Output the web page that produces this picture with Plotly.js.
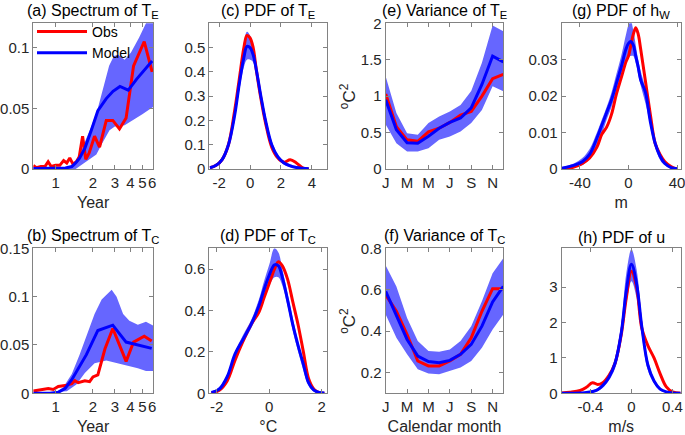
<!DOCTYPE html>
<html>
<head>
<meta charset="utf-8">
<script src="https://cdn.plot.ly/plotly-3.0.1.min.js"></script>
<style>html,body{margin:0;padding:0;background:#fff}#chart{width:685px;height:435px}</style>
</head>
<body>
<div id="chart"></div>
<script>
// ---------- (a) Spectrum of T_E ----------
const aObsPeriod = [0.66,0.70,0.76,0.82,0.87,0.92,1.0,1.08,1.16,1.23,1.30,1.38,1.47,1.55,1.65,1.75,1.86,2.06,2.26,2.56,2.89,3.27,3.7,4.25,5.18,6.0];
const aObs       = [0.003,0.001,0.002,0.002,0.006,0.002,0.003,0.003,0.007,0.005,0.009,0.004,0.006,0.010,0.027,0.008,0.013,0.027,0.018,0.040,0.040,0.033,0.042,0.085,0.105,0.080];
const aModelPeriod = [0.66,0.8,1.0,1.2,1.35,1.45,1.56,1.72,1.94,2.19,2.56,2.9,3.3,3.85,4.5,5.2,6.0];
const aModel       = [0.0005,0.0005,0.0005,0.0008,0.002,0.005,0.009,0.017,0.032,0.048,0.058,0.064,0.068,0.065,0.074,0.082,0.089];
const aUpPeriod = [0.66,1.2,1.3,1.45,1.56,1.72,1.94,2.19,2.4,2.7,2.95,3.2,3.6,4.05,4.7,5.35,6.1];
const aUp       = [0.001,0.001,0.002,0.006,0.012,0.022,0.035,0.05,0.065,0.085,0.093,0.094,0.09,0.096,0.108,0.12,0.128];
const aLoPeriod = [0.66,1.45,1.56,1.72,1.94,2.13,2.4,2.72,3.0,3.6,4.2,5.0,6.1];
const aLo       = [0,0,0.002,0.005,0.009,0.012,0.022,0.032,0.035,0.036,0.04,0.045,0.051];

// ---------- (b) Spectrum of T_C ----------
const bObsPeriod = [0.66,0.724,0.794,0.873,0.957,1.05,1.19,1.35,1.43,1.52,1.72,1.88,2.0,2.19,2.5,2.89,3.7,4.25,5.18,5.95];
const bObs       = [0.0024,0.0034,0.0044,0.005,0.004,0.007,0.008,0.010,0.013,0.011,0.013,0.012,0.017,0.019,0.046,0.067,0.033,0.053,0.059,0.054];
const bModelPeriod = [0.66,0.9,1.05,1.19,1.35,1.52,1.77,2.19,2.89,3.7,4.73,5.95];
const bModel       = [0,0,0.001,0.005,0.014,0.026,0.04,0.065,0.0705,0.053,0.05,0.0465];
const bUpPeriod = [0.66,1.0,1.15,1.35,1.56,1.72,2.06,2.35,2.56,2.83,3.1,3.5,3.93,4.6,5.35,6.1];
const bUp       = [0,0.001,0.006,0.02,0.04,0.055,0.082,0.097,0.102,0.107,0.1,0.082,0.075,0.071,0.074,0.07];
const bLoPeriod = [0.66,1.23,1.47,1.72,2.06,2.56,3.17,3.7,4.6,5.35,6.1];
const bLo       = [0,0.002,0.009,0.021,0.031,0.034,0.031,0.029,0.026,0.023,0.023];

// ---------- (c) PDF of T_E ----------
const cX     = [-2.6,-2.2,-1.8,-1.4,-1.0,-0.7,-0.4,-0.2,0,0.2,0.4,0.7,1.0,1.4,1.8,2.2,2.6,3.0,3.4,3.8];
const cObs   = [0.005,0.015,0.04,0.1,0.24,0.37,0.5,0.55,0.54,0.5,0.41,0.29,0.19,0.09,0.045,0.028,0.038,0.025,0.005,0.0];
const cModel = [0.005,0.015,0.04,0.1,0.22,0.35,0.46,0.505,0.5,0.47,0.41,0.3,0.2,0.1,0.05,0.025,0.013,0.006,0.003,0.001];
const cUp    = [0.008,0.02,0.05,0.11,0.24,0.38,0.52,0.565,0.55,0.5,0.43,0.32,0.22,0.115,0.06,0.033,0.02,0.012,0.007,0.003];
const cLo    = [0.002,0.01,0.03,0.085,0.2,0.32,0.42,0.45,0.45,0.44,0.39,0.28,0.18,0.085,0.04,0.017,0.007,0.002,0.0,0.0];

// ---------- (d) PDF of T_C ----------
const dX     = [-2.2,-1.9,-1.6,-1.3,-1.0,-0.7,-0.4,-0.2,0,0.2,0.35,0.5,0.7,0.9,1.1,1.3,1.5,1.7,1.9,2.1];
const dObs   = [0.002,0.015,0.06,0.16,0.25,0.33,0.39,0.46,0.53,0.6,0.635,0.615,0.55,0.44,0.33,0.2,0.07,0.02,0.003,0.0];
const dModel = [0.004,0.02,0.08,0.19,0.26,0.33,0.42,0.5,0.57,0.62,0.615,0.56,0.45,0.33,0.23,0.14,0.05,0.015,0.004,0.001];
const dUp    = [0.008,0.03,0.09,0.2,0.28,0.35,0.45,0.54,0.62,0.7,0.68,0.6,0.48,0.36,0.25,0.15,0.065,0.025,0.008,0.003];
const dLo    = [0.0,0.01,0.06,0.17,0.24,0.31,0.39,0.46,0.52,0.56,0.56,0.52,0.42,0.3,0.2,0.11,0.035,0.007,0.0,0.0];

// ---------- (e) Variance of T_E / (f) Variance of T_C ----------
const months = [1,2,3,4,5,6,7,8,9,10,11,12];
const monthTicks = [1,3,5,7,9,11];
const monthLabels = ['J','M','M','J','S','N'];
const eObs   = [1.03,0.58,0.40,0.38,0.51,0.56,0.64,0.74,0.79,1.0,1.24,1.3];
const eModel = [0.95,0.54,0.36,0.355,0.45,0.56,0.64,0.70,0.84,1.16,1.55,1.47];
const eUp    = [1.27,0.77,0.49,0.47,0.63,0.72,0.79,0.88,1.07,1.46,1.97,1.89];
const eLo    = [0.61,0.354,0.24,0.24,0.285,0.40,0.446,0.515,0.63,0.81,1.136,1.067];
const fObs   = [0.576,0.496,0.384,0.256,0.232,0.232,0.256,0.288,0.368,0.496,0.605,0.605];
const fModel = [0.592,0.48,0.36,0.28,0.253,0.248,0.259,0.288,0.336,0.424,0.541,0.616];
const fUp    = [0.717,0.616,0.464,0.352,0.304,0.30,0.312,0.352,0.424,0.544,0.68,0.752];
const fLo    = [0.48,0.368,0.288,0.216,0.195,0.192,0.208,0.224,0.256,0.32,0.408,0.48];

// ---------- (g) PDF of h_W ----------
const gX     = [-55,-45,-38,-32,-26,-22,-18,-14,-10,-6,-2,0,2,4,6,8,10,14,18,22,26,30,35,40];
const gObs   = [0.0,0.0005,0.0015,0.003,0.006,0.0095,0.0115,0.015,0.0205,0.025,0.0295,0.031,0.034,0.037,0.0388,0.037,0.033,0.024,0.015,0.007,0.004,0.002,0.0007,0.0];
const gModel = [0.0002,0.001,0.002,0.004,0.0085,0.012,0.0155,0.019,0.0235,0.028,0.033,0.0345,0.035,0.034,0.031,0.028,0.0245,0.021,0.013,0.007,0.0035,0.0015,0.0004,0.0001];
const gUp    = [0.0005,0.0015,0.003,0.0055,0.01,0.0135,0.017,0.021,0.026,0.031,0.037,0.0395,0.0405,0.038,0.034,0.03,0.027,0.022,0.014,0.008,0.0045,0.002,0.0007,0.0002];
const gLo    = [0,0.0005,0.001,0.003,0.0065,0.0095,0.0135,0.017,0.0215,0.026,0.03,0.031,0.031,0.031,0.029,0.026,0.023,0.018,0.012,0.006,0.0025,0.001,0.0002,0];

// ---------- (h) PDF of u ----------
const hX     = [-0.68,-0.6,-0.5,-0.44,-0.38,-0.33,-0.28,-0.22,-0.16,-0.1,-0.05,0,0.05,0.1,0.16,0.22,0.28,0.34,0.4,0.48];
const hObs   = [0.01,0.03,0.08,0.17,0.3,0.25,0.3,0.5,0.85,1.65,2.7,3.45,3.0,1.85,1.35,1.0,0.55,0.18,0.04,0.0];
const hModel = [0.0,0.0,0.01,0.02,0.05,0.1,0.22,0.45,0.85,1.7,2.9,3.65,3.1,1.9,0.8,0.35,0.12,0.04,0.01,0.0];
const hUp    = [0.0,0.005,0.02,0.04,0.08,0.15,0.3,0.55,1.0,1.95,3.4,4.07,3.5,2.15,0.95,0.42,0.16,0.06,0.02,0.0];
const hLo    = [0.0,0.0,0.0,0.005,0.02,0.06,0.15,0.36,0.7,1.45,2.5,3.17,2.7,1.65,0.65,0.28,0.08,0.02,0.0,0.0];

const RED = 'rgb(255,0,0)', BLUE = 'rgb(0,0,255)', BAND = 'rgb(102,102,255)';
const FONT = 'Liberation Sans, Arial, Helvetica, sans-serif';

function band(xu, yu, xl, yl, n, shape) {
  return {x: xu.concat(xl.slice().reverse()), y: yu.concat(yl.slice().reverse()),
    mode: 'lines', fill: 'toself', fillcolor: BAND, line: {width: 0, color: BAND, shape: shape},
    xaxis: 'x' + n, yaxis: 'y' + n, showlegend: false, hoverinfo: 'skip'};
}
function line(x, y, color, n, shape, name, legend) {
  return {x: x, y: y, mode: 'lines', line: {color: color, width: 3, shape: shape},
    xaxis: 'x' + n, yaxis: 'y' + n, name: name || '', showlegend: !!legend};
}

const traces = [
  band(aUpPeriod, aUp, aLoPeriod, aLo, '', 'linear'),
  line(aObsPeriod, aObs, RED, '', 'linear', 'Obs', true),
  line(aModelPeriod, aModel, BLUE, '', 'linear', 'Model', true),
  band(bUpPeriod, bUp, bLoPeriod, bLo, 2, 'linear'),
  line(bObsPeriod, bObs, RED, 2, 'linear'),
  line(bModelPeriod, bModel, BLUE, 2, 'linear'),
  band(cX, cUp, cX, cLo, 3, 'spline'),
  line(cX, cObs, RED, 3, 'spline'),
  line(cX, cModel, BLUE, 3, 'spline'),
  band(dX, dUp, dX, dLo, 4, 'spline'),
  line(dX, dObs, RED, 4, 'spline'),
  line(dX, dModel, BLUE, 4, 'spline'),
  band(months, eUp, months, eLo, 5, 'linear'),
  line(months, eObs, RED, 5, 'linear'),
  line(months, eModel, BLUE, 5, 'linear'),
  band(months, fUp, months, fLo, 6, 'linear'),
  line(months, fObs, RED, 6, 'linear'),
  line(months, fModel, BLUE, 6, 'linear'),
  band(gX, gUp, gX, gLo, 7, 'spline'),
  line(gX, gObs, RED, 7, 'spline'),
  line(gX, gModel, BLUE, 7, 'spline'),
  band(hX, hUp, hX, hLo, 8, 'spline'),
  line(hX, hObs, RED, 8, 'spline'),
  line(hX, hModel, BLUE, 8, 'spline')
];

const W = 685, H = 435;
const colX = [[33.3,153],[209.3,327.3],[385.7,503.3],[561.7,680.7]];
const rowY = [[23.3,169],[248.3,393.3]];
function xd(c){ return [colX[c][0]/W, colX[c][1]/W]; }
function yd(r){ return [1-rowY[r][1]/H, 1-rowY[r][0]/H]; }

const AXC = 'rgb(130,130,130)';
function axis(extra) {
  return Object.assign({showline: true, mirror: 'ticks', linecolor: AXC, linewidth: 1,
    ticks: 'inside', ticklen: 4, tickcolor: AXC, tickwidth: 1, showgrid: false, zeroline: false,
    tickangle: 0, automargin: false, ticklabeloverflow: 'allow',
    tickfont: {size: 15, color: '#262626', family: FONT}, fixedrange: true}, extra);
}
function xt(text){ return {text: text, font: {size: 16, color: '#262626', family: FONT}, standoff: 6}; }

const layout = {
  width: W, height: H, margin: {l: 0, r: 0, t: 0, b: 0}, paper_bgcolor: '#fff', plot_bgcolor: '#fff',
  font: {family: FONT, color: '#262626', size: 15},
  showlegend: true,
  legend: {x: 32/W, y: 1-16/H, xanchor: 'left', yanchor: 'top', bgcolor: 'rgba(0,0,0,0)',
    font: {size: 14, color: '#000', family: FONT}, tracegroupgap: 0, itemwidth: 50},
  xaxis:  axis({domain: xd(0), anchor: 'y',  type: 'log', range: [-0.18, 0.785], tickvals: [1,2,3,4,5,6], ticktext: ['1','2','3','4','5','6'], title: xt('Year')}),
  yaxis:  axis({domain: yd(0), anchor: 'x',  range: [0, 0.12], tickvals: [0,0.05,0.1], ticktext: ['0','0.05','0.1']}),
  xaxis2: axis({domain: xd(0), anchor: 'y2', type: 'log', range: [-0.18, 0.785], tickvals: [1,2,3,4,5,6], ticktext: ['1','2','3','4','5','6'], title: xt('Year')}),
  yaxis2: axis({domain: yd(1), anchor: 'x2', range: [0, 0.15], tickvals: [0,0.05,0.1,0.15], ticktext: ['0','0.05','0.1','0.15']}),
  xaxis3: axis({domain: xd(1), anchor: 'y3', range: [-2.64, 5], tickvals: [-2,0,2,4], ticktext: ['-2','0','2','4']}),
  yaxis3: axis({domain: yd(0), anchor: 'x3', range: [0, 0.6], tickvals: [0,0.1,0.2,0.3,0.4,0.5], ticktext: ['0','0.1','0.2','0.3','0.4','0.5']}),
  xaxis4: axis({domain: xd(1), anchor: 'y4', range: [-2.28, 2.21], tickvals: [-2,0,2], ticktext: ['-2','0','2'], title: xt('°C')}),
  yaxis4: axis({domain: yd(1), anchor: 'x4', range: [0, 0.7], tickvals: [0,0.2,0.4,0.6], ticktext: ['0','0.2','0.4','0.6']}),
  xaxis5: axis({domain: xd(2), anchor: 'y5', range: [1, 12], tickvals: monthTicks, ticktext: monthLabels}),
  yaxis5: axis({domain: yd(0), anchor: 'x5', range: [0, 2], tickvals: [0,0.5,1,1.5,2], ticktext: ['0','0.5','1','1.5','2']}),
  xaxis6: axis({domain: xd(2), anchor: 'y6', range: [1, 12], tickvals: monthTicks, ticktext: monthLabels, title: xt('Calendar month')}),
  yaxis6: axis({domain: yd(1), anchor: 'x6', range: [0.1, 0.8], tickvals: [0.2,0.4,0.6,0.8], ticktext: ['0.2','0.4','0.6','0.8']}),
  xaxis7: axis({domain: xd(3), anchor: 'y7', range: [-55, 43], tickvals: [-40,0,40], ticktext: ['-40','0','40'], title: xt('m')}),
  yaxis7: axis({domain: yd(0), anchor: 'x7', range: [0, 0.04], tickvals: [0,0.01,0.02,0.03], ticktext: ['0','0.01','0.02','0.03']}),
  xaxis8: axis({domain: xd(3), anchor: 'y8', range: [-0.68, 0.48], tickvals: [-0.4,0,0.4], ticktext: ['-0.4','0','0.4'], title: xt('m/s')}),
  yaxis8: axis({domain: yd(1), anchor: 'x8', range: [0, 4.1], tickvals: [0,1,2,3], ticktext: ['0','1','2','3']}),
  annotations: []
};

const titles = [
  ['(a) Spectrum of T<sub>E</sub>', 0, 0], ['(b) Spectrum of T<sub>C</sub>', 0, 1],
  ['(c) PDF of T<sub>E</sub>', 1, 0], ['(d) PDF of T<sub>C</sub>', 1, 1],
  ['(e) Variance of T<sub>E</sub>', 2, 0], ['(f) Variance of T<sub>C</sub>', 2, 1],
  ['(g) PDF of h<sub>W</sub>', 3, 0], ['(h) PDF of u', 3, 1]
];
titles.forEach(function(t){
  const d = xd(t[1]);
  layout.annotations.push({text: t[0], xref: 'paper', yref: 'paper', x: (d[0]+d[1])/2, y: yd(t[2])[1],
    xanchor: 'center', yanchor: 'bottom', showarrow: false, yshift: 0,
    font: {size: 16, color: '#000', family: FONT}});
});
// y-axis titles of the variance panels
[0, 1].forEach(function(r){
  const d = yd(r);
  layout.annotations.push({text: '<sup>o</sup>C<sup>2</sup>', xref: 'paper', yref: 'paper',
    x: 348/W, y: (d[0]+d[1])/2, xanchor: 'center', yanchor: 'middle', textangle: -90,
    showarrow: false, font: {size: 17, color: '#262626', family: FONT}});
});

Plotly.newPlot('chart', traces, layout, {displayModeBar: false, staticPlot: true});
</script>
</body>
</html>
